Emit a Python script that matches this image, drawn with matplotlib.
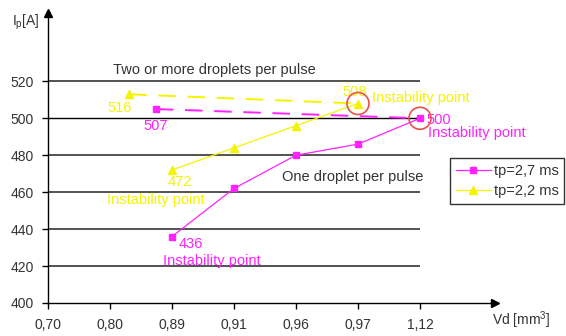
import matplotlib
matplotlib.use("Agg")
import matplotlib.pyplot as plt
from matplotlib.patches import Ellipse

plt.rcParams['font.family'] = ['Liberation Sans', 'DejaVu Sans']

# categories on the x axis (equally spaced)
x_labels = ["0,70", "0,80", "0,89", "0,91", "0,96", "0,97", "1,12"]
y_ticks = [400, 420, 440, 460, 480, 500, 520]

# tp = 2.7 ms, solid branch (category positions)
mag_x = [2, 3, 4, 5, 6]
mag_y = [436, 462, 480, 486, 500]
# tp = 2.7 ms, dashed branch
mag_dash_x = [1.74, 6]
mag_dash_y = [505, 500]

# tp = 2.2 ms, solid branch
yel_x = [2, 3, 4, 5]
yel_y = [472, 484, 496, 508]
# tp = 2.2 ms, dashed branch
yel_dash_x = [1.31, 5]
yel_dash_y = [513, 508]

grid_levels = [420, 440, 460, 480, 520]

MAG = "#ff22ff"
YEL = "#f4f400"
GRAY = "#333333"

fig = plt.figure(figsize=(5.66, 3.36), dpi=100)
ax = fig.add_axes([48/566, 33/336, 447/566, 290/336])
ax.set_xlim(0, 7.21)
ax.set_ylim(400, 557)

for s in ["top", "right"]:
    ax.spines[s].set_visible(False)
for s in ["left", "bottom"]:
    ax.spines[s].set_color("black")
    ax.spines[s].set_linewidth(1.0)

# arrowheads
ax.plot(1, 0, ">", color="black", markersize=6, transform=ax.transAxes, clip_on=False)
ax.plot(0, 1, "^", color="black", markersize=6, transform=ax.transAxes, clip_on=False)

# horizontal region lines
ax.hlines(grid_levels, 0, 6, colors="#444444", linewidth=1.3, zorder=1)
ax.hlines([500], 0, 6, colors="black", linewidth=1.0, zorder=1)

ax.set_xticks(range(len(x_labels)))
ax.set_xticklabels(x_labels)
ax.set_yticks(y_ticks)
ax.tick_params(axis="both", colors="black", labelcolor=GRAY, labelsize=10,
               length=4, width=1, direction="out")
ax.tick_params(axis="x", pad=7)
ax.tick_params(axis="y", pad=6)

# series
ax.plot(mag_dash_x, mag_dash_y, color=MAG, lw=1.4, dashes=(9, 6), zorder=3)
ax.plot(mag_dash_x[:1], mag_dash_y[:1], "s", color=MAG, ms=5, zorder=4)
ax.plot(yel_dash_x, yel_dash_y, color=YEL, lw=1.4, dashes=(9, 6), zorder=3)
ax.plot(yel_dash_x[:1], yel_dash_y[:1], "^", color=YEL, ms=6, zorder=4)
ax.plot(mag_x, mag_y, "-s", color=MAG, lw=0.9, ms=5, zorder=4, label="tp=2,7 ms")
ax.plot(yel_x, yel_y, "-^", color=YEL, lw=0.9, ms=6, zorder=4, label="tp=2,2 ms")

# instability circles (pixel-round ellipses in data coords)
rx = 11/62.0
ry = 11/1.847
for cx, cy in [(5, 508), (6, 500)]:
    ax.add_patch(Ellipse((cx, cy), 2*rx, 2*ry, fill=False, edgecolor="#e8504a", lw=1.2, zorder=5))

fs = 10.5
ax.text(2.68, 526.2, "Two or more droplets per pulse", color=GRAY, fontsize=fs, ha="center", va="center")
ax.text(4.92, 468.2, "One droplet per pulse", color=GRAY, fontsize=fs, ha="center", va="center")

ax.text(1.16, 505.6, "516", color=YEL, fontsize=fs, ha="center", va="center")
ax.text(1.73, 495.8, "507", color=MAG, fontsize=fs, ha="center", va="center")
ax.text(4.94, 514.2, "508", color=YEL, fontsize=fs, ha="center", va="center")
ax.text(5.23, 511.0, "Instability point", color=YEL, fontsize=fs, ha="left", va="center")
ax.text(6.11, 499.0, "500", color=MAG, fontsize=fs, ha="left", va="center")
ax.text(6.13, 492.0, "Instability point", color=MAG, fontsize=fs, ha="left", va="center")
ax.text(2.13, 465.5, "472", color=YEL, fontsize=fs, ha="center", va="center")
ax.text(1.74, 455.8, "Instability point", color=YEL, fontsize=fs, ha="center", va="center")
ax.text(2.10, 432.0, "436", color=MAG, fontsize=fs, ha="left", va="center")
ax.text(2.65, 422.7, "Instability point", color=MAG, fontsize=fs, ha="center", va="center")

# axis labels
fig.text(12/566, 1-22/336, r"I$_\mathregular{p}$[A]", color=GRAY, fontsize=10, ha="left", va="center")
fig.text(492/566, 1-320/336, r"Vd [mm$^\mathregular{3}$]", color=GRAY, fontsize=10, ha="left", va="center")

leg = fig.legend(loc="upper left", bbox_to_anchor=(450/566, 1-158/336), fontsize=fs,
                 frameon=True, fancybox=False, edgecolor="black", handlelength=2.4,
                 handletextpad=0.2, borderpad=0.4, labelspacing=0.4, borderaxespad=0)
leg.get_frame().set_linewidth(1.0)
for t in leg.get_texts():
    t.set_color(GRAY)

fig.savefig("out.png", dpi=100)
